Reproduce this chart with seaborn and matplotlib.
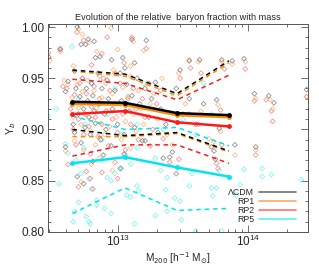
import numpy as np
import pandas as pd
import matplotlib
matplotlib.use("Agg")
import matplotlib.pyplot as plt
import seaborn as sns
from matplotlib.ticker import MultipleLocator, LogLocator, NullFormatter

# median / percentile curves, mass bins in h^-1 Msun
bin_mass = [4.5e12, 1.14e13, 2.86e13, 7.15e13]
models = ["\u039bCDM", "RP1", "RP2", "RP5"]
colors = {"\u039bCDM": "black", "RP1": "#ff8c00", "RP2": "#ff1a1a", "RP5": "#00e5ee"}
pt_colors = {"\u039bCDM": "#707070", "RP1": "#ffa860", "RP2": "#ff7070", "RP5": "#5ef0f0"}

median = {
    "\u039bCDM": [0.927, 0.926, 0.916, 0.914],
    "RP1": [0.925, 0.924, 0.914, 0.912],
    "RP2": [0.915, 0.918, 0.907, 0.903],
    "RP5": [0.867, 0.873, 0.863, 0.854],
}
upper = {
    "\u039bCDM": [0.958, 0.954, 0.935, 0.967],
    "RP1": [0.957, 0.952, 0.933, 0.965],
    "RP2": [0.949, 0.945, 0.929, 0.953],
    "RP5": [0.913, 0.900, 0.902, 0.884],
}
lower = {
    "\u039bCDM": [0.900, 0.894, 0.897, 0.879],
    "RP1": [0.893, 0.893, 0.896, 0.878],
    "RP2": [0.874, 0.885, 0.885, 0.867],
    "RP5": [0.818, 0.843, 0.821, 0.823],
}

# individual haloes: log10 M200 and Yb
lcdm_logm = [12.47, 12.56, 12.60, 12.62, 12.67, 12.69, 12.72, 12.755, 12.775, 12.82, 12.83, 12.864, 12.954, 13.04, 13.056, 13.11, 13.22, 13.13,
             12.65, 12.66, 12.67, 12.68, 12.70, 12.71, 12.72, 12.73, 12.74, 12.75, 12.76, 12.77, 12.78, 12.79, 12.80, 12.81, 12.82, 12.83,
             12.85, 12.86, 12.87, 12.88, 12.90, 12.91, 12.92, 12.93, 12.95, 12.96, 12.98, 13.00, 13.02, 13.03, 13.05, 13.07, 13.09, 13.11,
             13.13, 13.15, 13.17, 13.19, 13.21, 13.24, 13.26, 13.29, 13.31, 13.33,
             12.60, 12.69, 12.74, 12.81, 13.02, 13.05, 12.89,
             13.21, 13.35, 13.40, 13.42, 13.37, 13.45, 13.48, 13.55, 13.63, 13.72, 13.74, 13.75, 13.80, 13.76, 13.78, 13.88, 13.97,
             14.05, 14.16, 14.20, 14.45, 13.90, 13.55, 13.50, 13.60, 13.66, 14.06]
lcdm_yb = [0.971, 0.978, 0.937, 0.947, 0.957, 1.000, 0.983, 0.983, 0.988, 0.986, 0.970, 0.971, 0.968, 0.970, 0.960, 0.988, 0.987, 0.965,
           0.925, 0.905, 0.897, 0.940, 0.915, 0.932, 0.887, 0.950, 0.920, 0.902, 0.940, 0.928, 0.912, 0.895, 0.945, 0.933, 0.918, 0.906,
           0.955, 0.925, 0.890, 0.940, 0.915, 0.900, 0.948, 0.930, 0.884, 0.920, 0.938, 0.905, 0.955, 0.928, 0.895, 0.944, 0.918, 0.933,
           0.902, 0.950, 0.925, 0.889, 0.940, 0.912, 0.930, 0.946, 0.897, 0.920,
           0.883, 0.854, 0.847, 0.869, 0.862, 0.876, 0.875,
           0.889, 0.872, 0.873, 0.878, 0.905, 0.940, 0.958, 0.967, 0.968, 0.883, 0.879, 0.871, 0.968, 0.929, 0.901, 0.967, 0.969,
           0.935, 0.933, 0.926, 0.939, 0.885, 0.930, 0.915, 0.905, 0.925, 0.883]

rp1_logm = [12.48, 12.56, 12.59, 12.62, 12.66, 12.70, 12.73, 12.78, 12.84, 12.95, 13.00, 13.12, 13.20, 13.10,
            12.65, 12.66, 12.67, 12.69, 12.70, 12.72, 12.73, 12.74, 12.75, 12.77, 12.78, 12.79, 12.80, 12.82, 12.83, 12.84,
            12.86, 12.87, 12.88, 12.90, 12.91, 12.92, 12.94, 12.96, 12.97, 12.99, 13.01, 13.03, 13.04, 13.06, 13.08, 13.10,
            13.12, 13.14, 13.16, 13.18, 13.20, 13.23, 13.25, 13.28, 13.31, 13.34,
            12.60, 12.72, 12.80, 12.86, 12.96, 13.10,
            13.38, 13.42, 13.47, 13.55, 13.62, 13.70, 13.74, 13.80, 13.77, 13.79, 13.88, 13.98, 14.06, 14.17, 14.19, 14.45,
            14.06, 13.52, 13.64, 13.90]
rp1_yb = [0.967, 0.976, 0.948, 0.944, 0.962, 0.998, 0.993, 0.985, 0.976, 0.999, 0.978, 0.986, 0.977, 0.962,
          0.931, 0.912, 0.889, 0.944, 0.921, 0.905, 0.937, 0.880, 0.915, 0.948, 0.926, 0.899, 0.910, 0.938, 0.885, 0.921,
          0.952, 0.906, 0.931, 0.895, 0.945, 0.918, 0.903, 0.935, 0.958, 0.912, 0.926, 0.890, 0.941, 0.908, 0.930, 0.952,
          0.915, 0.898, 0.938, 0.920, 0.905, 0.944, 0.925, 0.935, 0.910, 0.950,
          0.879, 0.849, 0.866, 0.872, 0.860, 0.882,
          0.895, 0.885, 0.955, 0.968, 0.966, 0.891, 0.888, 0.966, 0.924, 0.898, 0.964, 0.966, 0.930, 0.929, 0.920, 0.932,
          0.880, 0.925, 0.918, 0.875]

rp2_logm = [12.47, 12.56, 12.58, 12.61, 12.69, 12.74, 12.80, 12.88, 12.98, 13.11, 13.22, 13.05, 12.92,
            12.64, 12.66, 12.67, 12.68, 12.70, 12.71, 12.72, 12.74, 12.75, 12.76, 12.78, 12.79, 12.80, 12.82, 12.83, 12.85,
            12.86, 12.88, 12.89, 12.91, 12.93, 12.94, 12.96, 12.98, 13.00, 13.02, 13.04, 13.06, 13.08, 13.10, 13.12, 13.14,
            13.16, 13.19, 13.21, 13.24, 13.27, 13.30, 13.33,
            12.62, 12.70, 12.76, 12.79, 12.81, 12.88, 12.98, 13.00, 13.25, 13.40, 13.45, 13.47, 13.35,
            13.48, 13.56, 13.64, 13.76, 13.77, 13.82, 13.79, 13.80, 13.98, 14.05, 14.14, 14.18, 14.19, 14.06, 13.55, 13.62, 14.45]
rp2_yb = [0.975, 0.979, 0.942, 0.940, 0.995, 0.987, 0.963, 0.974, 0.955, 0.990, 0.979, 0.965, 0.990,
          0.920, 0.900, 0.934, 0.885, 0.910, 0.945, 0.925, 0.895, 0.915, 0.935, 0.903, 0.876, 0.922, 0.942, 0.912, 0.893,
          0.930, 0.905, 0.950, 0.918, 0.884, 0.938, 0.910, 0.925, 0.897, 0.945, 0.915, 0.880, 0.932, 0.905, 0.940, 0.920,
          0.890, 0.930, 0.912, 0.945, 0.900, 0.925, 0.938,
          0.866, 0.844, 0.859, 0.852, 0.842, 0.858, 0.868, 0.852, 0.884, 0.868, 0.857, 0.871, 0.891,
          0.950, 0.960, 0.955, 0.867, 0.862, 0.959, 0.919, 0.885, 0.959, 0.928, 0.929, 0.918, 0.908, 0.875, 0.915, 0.905, 0.932]

rp5_logm = [12.47, 12.53, 12.65, 12.70, 12.75, 12.80, 12.85, 12.88, 12.93, 12.98, 13.03, 13.08, 13.15, 13.20, 13.28,
            13.35, 13.42, 13.50, 13.60, 13.66, 13.72,
            12.60, 12.47, 12.55, 12.62, 12.68, 12.72, 12.74, 12.78, 12.80, 12.84, 12.88, 12.92, 12.95, 12.98, 13.03, 13.06,
            13.10, 13.15, 13.29, 13.33, 13.38, 13.45, 13.55, 13.57, 13.72, 13.76, 13.73, 13.15, 13.16, 13.37, 13.44, 13.48,
            12.70, 12.67, 12.66, 12.76, 12.78, 12.79, 12.84, 12.90, 12.95, 13.07, 13.10, 13.13, 13.29, 13.38, 13.49, 13.60, 13.80,
            13.97, 14.11, 14.11, 14.18, 14.41, 13.94, 13.91, 13.78]
rp5_yb = [0.913, 0.920, 0.981, 0.930, 0.905, 0.945, 0.925, 0.890, 0.915, 0.940, 0.895, 0.930, 0.905, 0.945, 0.920,
          0.900, 0.935, 0.910, 0.895, 0.945, 0.915,
          0.886, 0.860, 0.847, 0.877, 0.870, 0.857, 0.882, 0.852, 0.842, 0.831, 0.870, 0.853, 0.850, 0.857, 0.862, 0.875,
          0.866, 0.882, 0.872, 0.860, 0.853, 0.857, 0.845, 0.857, 0.843, 0.843, 0.835, 0.845, 0.840, 0.841, 0.833, 0.830,
          0.829, 0.820, 0.810, 0.815, 0.810, 0.808, 0.826, 0.823, 0.818, 0.836, 0.834, 0.808, 0.816, 0.820, 0.812, 0.801, 0.801,
          0.861, 0.862, 0.854, 0.856, 0.851, 0.846, 0.836, 0.860]

haloes = {
    "\u039bCDM": (lcdm_logm, lcdm_yb),
    "RP1": (rp1_logm, rp1_yb),
    "RP2": (rp2_logm, rp2_yb),
    "RP5": (rp5_logm, rp5_yb),
}

sns.set_style("ticks")
plt.rcParams['font.family'] = ['Liberation Sans', 'DejaVu Sans']

fig = plt.figure(figsize=(3.19, 2.66), dpi=100)
ax = fig.add_axes([0.149, 0.128, 0.817, 0.782])

# scatter of individual haloes
for m in ["RP5", "RP2", "RP1", "\u039bCDM"]:
    lm, yb = haloes[m]
    pts = pd.DataFrame({"M200": 10.0 ** np.array(lm), "Yb": yb})
    sns.scatterplot(data=pts, x="M200", y="Yb", ax=ax, marker="D", s=6,
                    facecolor="none", edgecolor=pt_colors[m], linewidth=0.6,
                    alpha=0.75, legend=False)

# percentile (dashed) and median (solid) curves
for m in ["RP5", "RP2", "RP1", "\u039bCDM"]:
    for band in (upper, lower):
        ax.plot(bin_mass, band[m], ls=(0, (3, 2.5)), lw=1.1, color=colors[m], zorder=3)
for m in ["RP5", "RP2", "RP1", "\u039bCDM"]:
    med = pd.DataFrame({"M200": bin_mass, "Yb": median[m]})
    sns.lineplot(data=med, x="M200", y="Yb", ax=ax, color=colors[m], lw=1.8,
                 marker="o", markersize=3.5, markeredgewidth=0, zorder=4)

# legend: text first, line on the right
handles = [plt.Line2D([], [], color=pt_colors[m], lw=1.2) for m in models]
ax.legend(handles, models, loc="lower right", bbox_to_anchor=(0.975, 0.01), frameon=False,
          fontsize=6.3, markerfirst=False, handlelength=4.2, handletextpad=0.5,
          labelspacing=0.0, borderpad=0.2)

ax.set_xscale("log")
ax.set_xlim(2.9e12, 2.9e14)
ax.set_ylim(0.80, 1.003)
ax.yaxis.set_major_locator(MultipleLocator(0.05))
ax.yaxis.set_minor_locator(MultipleLocator(0.01))
ax.yaxis.set_major_formatter(matplotlib.ticker.FormatStrFormatter("%.2f"))
ax.xaxis.set_minor_locator(LogLocator(base=10, subs=np.arange(2, 10)))
ax.xaxis.set_minor_formatter(NullFormatter())
ax.tick_params(which="both", direction="in", top=True, right=True, color="#555555", width=0.6)
ax.tick_params(which="major", length=5, labelsize=8.5, pad=2.5)
ax.tick_params(axis="x", which="major", pad=1.5)
ax.tick_params(which="minor", length=2.5)
for sp in ax.spines.values():
    sp.set_color("#555555")
    sp.set_linewidth(0.7)

ax.set_xlabel("M$_{200}$ [h$^{-1}$ M$_{\\odot}$]", fontsize=7.2, labelpad=0.5)
ax.set_ylabel("Y$_b$", fontsize=7.5, labelpad=2)
ax.set_title("Evolution of the relative  baryon fraction with mass", fontsize=6.6, pad=3)

fig.savefig("out.png", dpi=100)
